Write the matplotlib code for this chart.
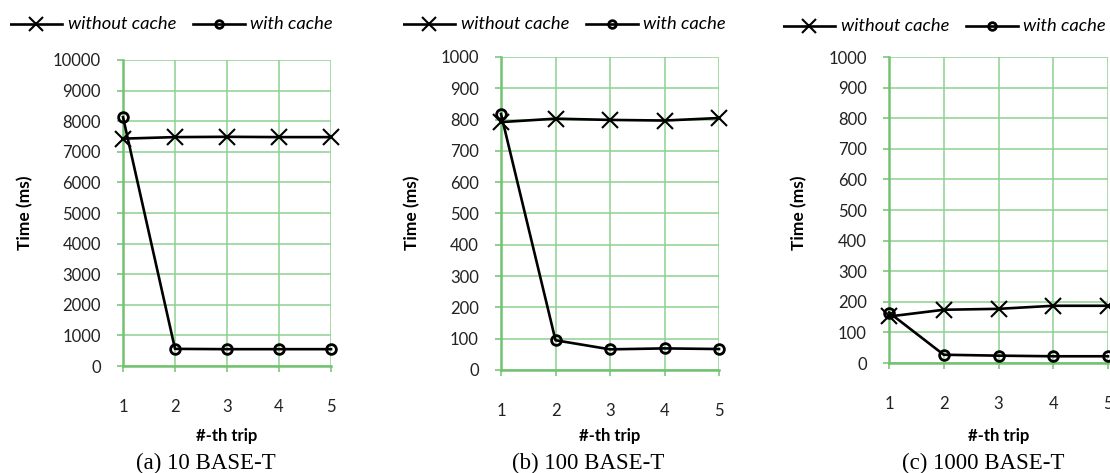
import matplotlib.pyplot as plt
import numpy as np

trips = [1, 2, 3, 4, 5]

# 10 BASE-T
no_cache_10 = [7430, 7480, 7490, 7480, 7480]
cache_10 = [8130, 560, 550, 550, 550]
# 100 BASE-T
no_cache_100 = [792, 803, 799, 797, 805]
cache_100 = [818, 95, 66, 69, 67]
# 1000 BASE-T
no_cache_1000 = [152, 174, 177, 187, 187]
cache_1000 = [165, 27, 24, 22, 22]

captions = ['(a) 10 BASE-T', '(b) 100 BASE-T', '(c) 1000 BASE-T']
ymax = [10000, 1000, 1000]
ystep = [1000, 100, 100]

grid_col = '#8fd08f'
axis_col = '#72c272'
W, H = 1110, 473

# axes boxes in pixels: left, top, right, bottom
boxes = [(123, 60, 331, 366), (501, 57, 719, 370), (889, 57, 1108, 363)]
legend_pos = [(10, 24), (403, 24), (783, 26)]
ylab_x = [25, 412, 799]
cap_x = [206, 588, 983]

fig = plt.figure(figsize=(W / 100, H / 100), dpi=100)

series = [(no_cache_10, cache_10), (no_cache_100, cache_100), (no_cache_1000, cache_1000)]

for i, (nc, c) in enumerate(series):
    l, t, r, b = boxes[i]
    ax = fig.add_axes([l / W, 1 - b / H, (r - l) / W, (b - t) / H])
    ax.set_xlim(1, 5)
    ax.set_ylim(0, ymax[i])
    ax.set_xticks(trips)
    ax.set_yticks(np.arange(0, ymax[i] + 1, ystep[i]))
    ax.grid(True, color=grid_col, lw=1.1)
    ax.set_axisbelow(True)
    for s in ['top', 'right']:
        ax.spines[s].set_visible(False)
    for s in ['left', 'bottom']:
        ax.spines[s].set_color(axis_col)
        ax.spines[s].set_linewidth(1.8)
    ax.tick_params(axis='both', colors=axis_col, length=4, width=1.1,
                   labelcolor='#222222', labelsize=12)
    ax.tick_params(axis='y', pad=12)
    ax.tick_params(axis='x', pad=20)
    for lab in ax.get_xticklabels() + ax.get_yticklabels():
        lab.set_family('Lato')

    ax.plot(trips, nc, color='black', lw=1.9, marker='x', ms=12, mew=1.5,
            clip_on=False, zorder=3)
    ax.plot(trips, c, color='black', lw=1.9, marker='o', ms=7, mew=2,
            mfc='none', clip_on=False, zorder=3)

    # legend drawn manually to keep the wide Excel-style keys
    lx, ly = legend_pos[i]
    lay = fig.add_axes([lx / W, 1 - (ly + 10) / H, 330 / W, 20 / H])
    lay.set_xlim(0, 330)
    lay.set_ylim(-10, 10)
    lay.axis('off')
    lay.plot([0, 52], [0, 0], color='black', lw=1.9)
    lay.plot([26], [0], marker='x', color='black', ms=10, mew=1.5)
    lay.text(58, 0, 'without cache', style='italic', fontsize=13.2,
             family='Lato', va='center', ha='left')
    lay.plot([183, 235], [0, 0], color='black', lw=1.9)
    lay.plot([209], [0], marker='o', color='black', ms=5.5, mew=2, mfc='none')
    lay.text(240, 0, 'with cache', style='italic', fontsize=13.2,
             family='Lato', va='center', ha='left')

    fig.text(ylab_x[i] / W, 1 - 213 / H, 'Time (ms)', rotation=90, fontsize=12.5,
             fontweight='bold', family='Lato', ha='center', va='center')
    cx = (l + r) / 2
    fig.text(cx / W, 1 - 436 / H, '#-th trip', fontsize=12, fontweight='bold',
             family='Lato', ha='center', va='center')
    fig.text(cap_x[i] / W, 1 - 463 / H, captions[i], fontsize=16.5,
             family='Liberation Serif', ha='center', va='center')

plt.savefig('out.png', dpi=100)
